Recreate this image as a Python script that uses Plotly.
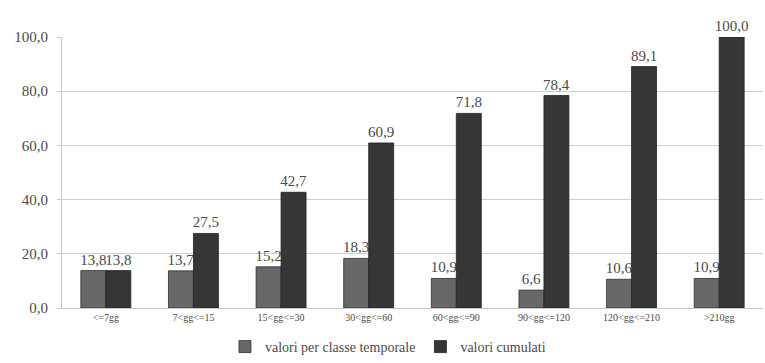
import plotly.graph_objects as go

# Classi temporali (giorni) e percentuali
categorie = ["<=7gg", "7<gg<=15", "15<gg<=30", "30<gg<=60",
             "60<gg<=90", "90<gg<=120", "120<gg<=210", ">210gg"]
valori_classe = [13.8, 13.7, 15.2, 18.3, 10.9, 6.6, 10.6, 10.9]
valori_cumulati = [13.8, 27.5, 42.7, 60.9, 71.8, 78.4, 89.1, 100.0]
tick_y = [0, 20, 40, 60, 80, 100]

font_serif = "Times New Roman, Liberation Serif, DejaVu Serif, serif"
col_testo = "#4a4a4a"


def etichette(vals):
    return [f"{v:.1f}".replace(".", ",") for v in vals]


fig = go.Figure()
fig.add_trace(go.Bar(
    x=categorie, y=valori_classe, name="valori per classe temporale",
    marker=dict(color="#686868", line=dict(color="#2e2e2e", width=0.8)),
    text=etichette(valori_classe), textposition="outside",
    constraintext="none",
    textfont=dict(family=font_serif, size=15, color=col_testo),
    cliponaxis=False,
))
fig.add_trace(go.Bar(
    x=categorie, y=valori_cumulati, name="valori cumulati",
    marker=dict(color="#363636", line=dict(color="#222222", width=0.8)),
    text=etichette(valori_cumulati), textposition="outside",
    constraintext="none",
    textfont=dict(family=font_serif, size=15, color=col_testo),
    cliponaxis=False,
))

fig.update_layout(
    width=765, height=363,
    margin=dict(l=62, r=2, t=37, b=55, autoexpand=False),
    paper_bgcolor="white", plot_bgcolor="white",
    barmode="group", bargap=0.43, bargroupgap=0,
    separators=",.",
    font=dict(family=font_serif, color=col_testo),
    showlegend=True,
    legend=dict(orientation="h", x=0.465, xanchor="center",
                yref="container", y=-0.005, yanchor="bottom",
                font=dict(family=font_serif, size=14, color=col_testo),
                itemwidth=30, traceorder="normal"),
    xaxis=dict(showgrid=False, showline=True, linecolor="#c8c8c8",
               ticks="", tickfont=dict(family=font_serif, size=10, color=col_testo)),
    yaxis=dict(range=[0, 100], tickvals=tick_y, tickformat=".1f",
               showgrid=True, gridcolor="#cfcfcf", gridwidth=1,
               showline=True, linecolor="#c8c8c8", ticks="outside",
               ticklen=4, tickcolor="#c8c8c8", ticklabelstandoff=6,
               zeroline=False,
               tickfont=dict(family=font_serif, size=15, color=col_testo)),
)

fig.write_html("out.html")
